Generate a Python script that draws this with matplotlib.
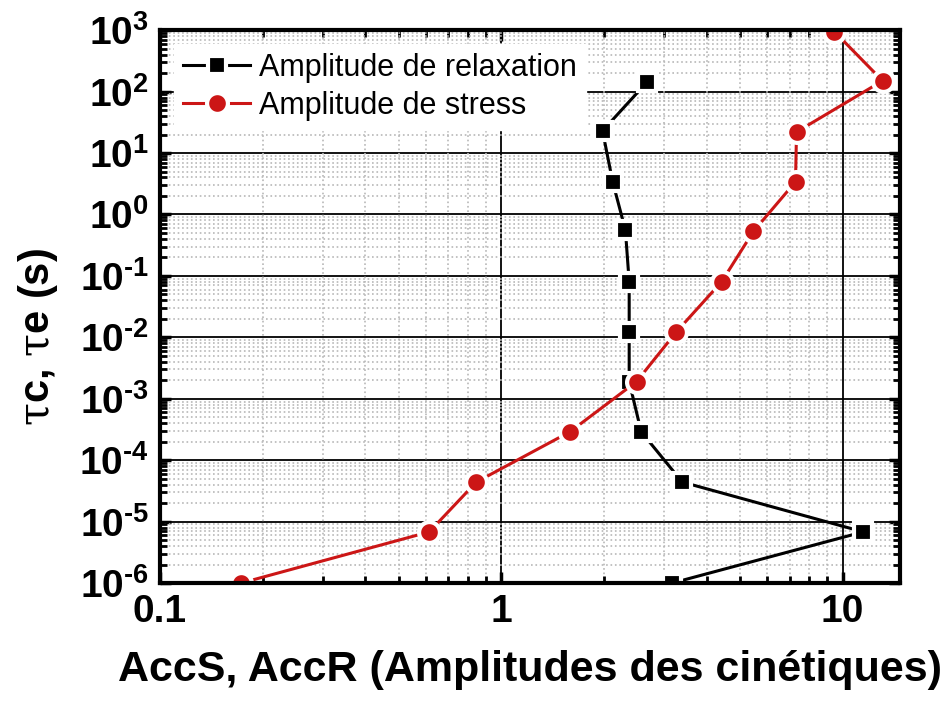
import matplotlib.pyplot as plt
from matplotlib.ticker import LogLocator, FixedLocator, NullFormatter

plt.rcParams['font.family'] = ['Liberation Sans', 'DejaVu Sans']
plt.rcParams['mathtext.fontset'] = 'custom'
plt.rcParams['mathtext.rm'] = 'Liberation Sans:bold'
plt.rcParams['mathtext.bf'] = 'Liberation Sans:bold'
plt.rcParams['mathtext.sf'] = 'DejaVu Serif'
plt.rcParams['mathtext.default'] = 'bf'

# relaxation amplitudes (black squares)
acc_r = [3.17, 11.5, 3.39, 2.57, 2.37, 2.37, 2.37, 2.31, 2.12, 1.98, 2.68]
tau_r = [1.0e-6, 6.8e-6, 4.4e-5, 2.9e-4, 1.9e-3, 1.23e-2, 0.08, 0.56, 3.4, 23, 145]

# stress amplitudes (red circles)
acc_s = [0.173, 0.615, 0.845, 1.59, 2.49, 3.26, 4.42, 5.48, 7.28, 7.33, 13.1, 9.46]
tau_s = [1.0e-6, 6.8e-6, 4.4e-5, 2.9e-4, 1.9e-3, 1.23e-2, 0.08, 0.53, 3.4, 22, 150, 950]

fig = plt.figure(figsize=(9.47, 7.02), dpi=100)
ax = fig.add_axes([0.169, 0.1695, 0.781, 0.7875])

ax.set_xscale('log')
ax.set_yscale('log')
ax.set_xlim(0.1, 14.7)
ax.set_ylim(1e-6, 1e3)

# grid: dotted minor everywhere, solid black major
ax.xaxis.set_minor_locator(LogLocator(base=10, subs=range(2, 10), numticks=20))
ax.yaxis.set_minor_locator(LogLocator(base=10, subs=range(2, 10), numticks=20))
ax.grid(which='minor', color='#b8b8b8', linestyle=':', linewidth=1.2, zorder=0)
for yv in [1e-5, 1e-4, 1e-3, 1e-2, 1e-1, 1, 10, 100]:
    ax.axhline(yv, color='black', linewidth=1.3, zorder=1)
for xv in [1, 10]:
    ax.axvline(xv, color='black', linewidth=1.3, zorder=1)

ax.plot(acc_r, tau_r, color='black', linewidth=2.2, marker='s', markersize=13,
        markerfacecolor='black', markeredgecolor='white', markeredgewidth=3,
        label='Amplitude de relaxation', zorder=3)
ax.plot(acc_s, tau_s, color='#cc1616', linewidth=2.2, marker='o', markersize=15,
        markerfacecolor='#cc1616', markeredgecolor='white', markeredgewidth=3,
        label='Amplitude de stress', zorder=4)

ax.yaxis.set_major_locator(FixedLocator([10.0 ** k for k in range(-6, 4)]))
ax.set_yticklabels([r'$10^{\text{-}%d}$' % -k if k < 0 else r'$10^{%d}$' % k
                    for k in range(-6, 4)])
ax.xaxis.set_major_locator(FixedLocator([0.1, 1, 10]))
ax.set_xticklabels(['0.1', '1', '10'])
ax.xaxis.set_minor_formatter(NullFormatter())
ax.yaxis.set_minor_formatter(NullFormatter())

ax.tick_params(which='both', direction='in', top=True, right=True)
ax.tick_params(which='major', length=8, width=2.5, labelsize=28, pad=8)
ax.tick_params(which='minor', length=5, width=2)
for lab in ax.get_xticklabels():
    lab.set_fontweight('bold')

for sp in ax.spines.values():
    sp.set_linewidth(3)
    sp.set_zorder(5)

ax.set_xlabel('AccS, AccR (Amplitudes des cinétiques)', fontsize=31,
              fontweight='bold', labelpad=14)
ax.set_ylabel(r'$\mathsf{\tau}$c, $\mathsf{\tau}$e (s)', fontsize=30,
              fontweight='bold')
ax.yaxis.set_label_coords(-0.135, 0.445)

leg = ax.legend(loc='upper left', fontsize=22, frameon=True, fancybox=False,
                borderaxespad=0.45, handlelength=2.2, handletextpad=0.3,
                labelspacing=0.25, borderpad=0.3)
leg.get_frame().set_edgecolor('white')
leg.get_frame().set_facecolor('white')
leg.get_frame().set_alpha(1)
leg.set_zorder(6)

fig.savefig('out.png', dpi=100)
